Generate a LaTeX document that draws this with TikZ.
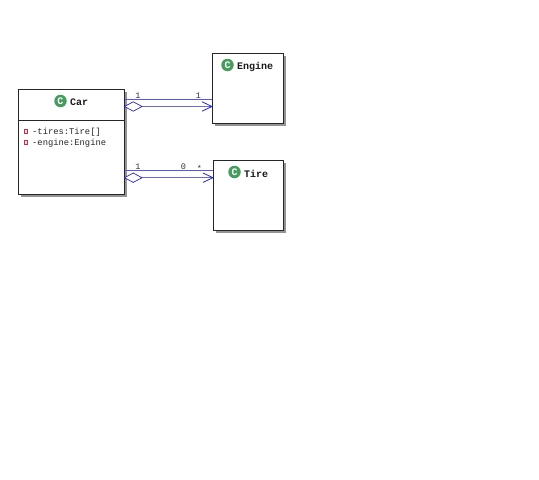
\documentclass[tikz,border=0pt]{standalone}
\usepackage{fontspec}
\setmainfont{Liberation Mono}
\usetikzlibrary{shadows,calc}
\definecolor{linkblue}{RGB}{40,40,190}
\definecolor{linkbright}{RGB}{85,85,245}
\definecolor{linkpale}{RGB}{105,105,215}
\definecolor{iconfill}{RGB}{70,155,95}
\definecolor{privred}{RGB}{200,50,70}
\tikzset{
  x=1pt,y=-1pt,
  classbox/.style={draw=black!85,line width=0.9pt,fill=white,anchor=north west,inner sep=0pt,outer sep=0pt,
    general shadow={shadow xshift=2.8pt,shadow yshift=-2.8pt,fill=black!42}},
  title/.style={font=\fontsize{10}{10}\selectfont\bfseries,anchor=west,inner sep=0pt,text=black!90},
  attr/.style={font=\fontsize{8.8}{9}\selectfont,anchor=west,inner sep=0pt,text=black!85},
  icon/.style={circle,fill=iconfill,minimum size=12.5pt,inner sep=0pt,text=white,
    font=\fontsize{10}{10}\selectfont\bfseries},
  priv/.style={draw=privred,fill=privred!15,line width=0.9pt,minimum size=3.8pt,inner sep=0pt},
  mult/.style={font=\fontsize{8.5}{8.5}\selectfont,inner sep=0pt,text=black!80},
  linktop/.style={draw=linkbright,line width=1pt},
  linklow/.style={draw=linkpale,line width=1.3pt},
  dia/.style={draw=linkblue,line width=0.7pt,fill=white},
  openarrow/.style={draw=linkblue,line width=0.8pt}
}
\begin{document}
\begin{tikzpicture}
\useasboundingbox (0,0) rectangle (539,480);
% classes
\node[classbox,minimum width=106.5pt,minimum height=105pt] (car) at (18,89) {};
\node[classbox,minimum width=71pt,minimum height=70.5pt] (engine) at (212,53) {};
\node[classbox,minimum width=70.5pt,minimum height=70pt] (tire) at (213,160) {};
\coordinate (divl) at (18,120);
\coordinate (divr) at (124.5,120);
\draw[black!85,line width=0.9pt] (divl) -- (divr);
% headers
\node[icon] (carC) at (60.5,101) {C};
\node[title] (carT) at (70,102.5) {Car};
\node[icon] (engC) at (227.5,65) {C};
\node[title] (engT) at (237,67) {Engine};
\node[icon] (tirC) at (234.5,172) {C};
\node[title] (tirT) at (244,173.5) {Tire};
% attributes
\node[priv] (p1) at (26,131.5) {};
\node[attr] (a1) at (32,132) {-tires:Tire[]};
\node[priv] (p2) at (26,142.5) {};
\node[attr] (a2) at (32,143) {-engine:Engine};
% anchors on the class borders
\coordinate (ce1) at (124.5,99.5);
\coordinate (ce2) at (124.5,106.5);
\coordinate (en1) at (212,99.5);
\coordinate (en2) at (212,106.5);
\coordinate (ct1) at (124.5,170.5);
\coordinate (ct2) at (124.5,177.7);
\coordinate (ti1) at (213,170.5);
\coordinate (ti2) at (213,177.7);
% car -> engine
\draw[linktop] (ce1) -- (en1);
\draw[linklow] (ce2) -- (en2);
\draw[dia] (ce2) -- ++(8.75,-4.7) -- ++(8.75,4.7) -- ++(-8.75,4.7) -- cycle;
\draw[openarrow] ($(en2)+(-10,-4.7)$) -- (en2) -- ($(en2)+(-10,4.7)$);
% car -> tire
\draw[linktop] (ct1) -- (ti1);
\draw[linklow] (ct2) -- (ti2);
\draw[dia] (ct2) -- ++(8.75,-4.7) -- ++(8.75,4.7) -- ++(-8.75,4.7) -- cycle;
\draw[openarrow] ($(ti2)+(-10,-4.7)$) -- (ti2) -- ($(ti2)+(-10,4.7)$);
% multiplicities
\node[mult] (m1) at (138,96) {1};
\node[mult] (m2) at (198.5,96) {1};
\node[mult] (m3) at (138,167) {1};
\node[mult] (m4) at (183.5,167) {0};
\node[mult] (m5) at (199.5,168) {*};
\end{tikzpicture}
\end{document}
